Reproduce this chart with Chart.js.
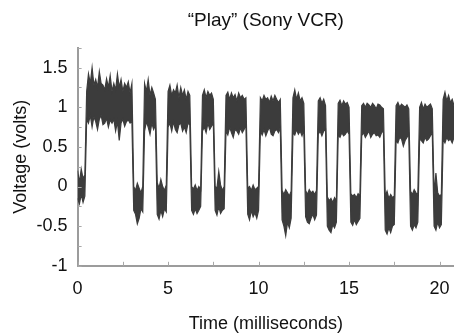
<!DOCTYPE html>
<html>
<head>
<meta charset="utf-8">
<script src="https://cdn.jsdelivr.net/npm/chart.js@4.4.1/dist/chart.umd.min.js"></script>
<style>
  html, body { margin: 0; padding: 0; background: #fff; }
  #wrap { width: 454px; height: 335px; }
</style>
</head>
<body>
<div id="wrap"><canvas id="scope"></canvas></div>
<script>
// scope trace: top and bottom edge of the noisy band,
// one sample every 0.1 ms (one line per pulse, low / high alternating)
const sampleStepMs = 0.1
const upperVolts = [
  0.20, 0.05, 0.22, 0.10, 0.15,
  1.20, 1.42, 1.30, 1.50, 1.28, 1.35, 1.25, 1.45, 1.30, 1.28, 1.22, 1.36, 1.25, 1.40, 1.20, 1.30, 1.22, 1.42, 1.25, 1.35, 1.20, 1.30, 1.25, 1.32, 1.18, 1.30,
  0.00, -0.05, 0.04, -0.02, -0.08, 0.00,
  1.30, 1.20, 1.35, 1.15, 1.25, 1.18, 1.10,
  0.05, -0.02, 0.09, 0.00, -0.05, 0.02,
  1.20, 1.28, 1.15, 1.22, 1.18, 1.28, 1.12, 1.25, 1.15, 1.22, 1.10, 1.20, 1.15,
  0.00, -0.03, 0.02, -0.05, 0.00, -0.04,
  1.15, 1.22, 1.12, 1.20, 1.15, 1.18, 1.10,
  0.00, -0.02, 0.19, 0.02, -0.05, 0.00,
  1.15, 1.19, 1.10, 1.18, 1.12, 1.16, 1.08, 1.18, 1.12, 1.15, 1.10, 1.12,
  -0.02, 0.00, -0.05, 0.02, -0.04, -0.02, 0.00,
  1.12, 1.08, 1.15, 1.10, 1.12, 1.06, 1.14, 1.08, 1.15, 1.10, 1.06, 1.10,
  -0.05, -0.10, -0.04, -0.08, -0.12, -0.06,
  1.12, 1.22, 1.10, 1.18, 1.08, 1.12, 1.05,
  -0.05, -0.10, -0.04, -0.08, -0.06, -0.10, -0.05,
  1.08, 1.12, 1.05, 1.10, 1.02,
  -0.13, -0.18, -0.15, -0.20, -0.14, -0.18,
  1.05, 1.09, 1.02, 1.08, 1.04, 1.06, 1.00,
  -0.09, -0.12, -0.10, -0.14, -0.09, -0.12,
  1.02, 1.05, 1.00, 1.05, 1.03, 1.00, 1.05, 1.02, 0.98, 1.04, 1.03, 1.00, 0.98,
  -0.12, -0.06, -0.15, -0.10, -0.14, -0.12,
  1.02, 1.06, 1.00, 1.04, 1.02, 1.00, 1.03, 0.98,
  -0.06, -0.10, -0.04, -0.08, -0.10,
  1.00, 1.06, 0.98, 1.04, 1.00, 1.02, 1.04, 0.98,
  -0.10, 0.17, -0.08, -0.12, -0.10,
  1.10, 1.19, 1.08, 1.15, 1.06, 1.10, 1.02
]
const lowerVolts = [
  -0.15, -0.22, -0.10, -0.20, -0.12,
  0.85, 0.80, 0.90, 0.75, 0.88, 0.82, 0.72, 0.85, 0.90, 0.78, 0.80, 0.86, 0.75, 0.84, 0.80, 0.85, 0.70, 0.82, 0.58, 0.80, 0.85, 0.76, 0.82, 0.84, 0.80, 0.82,
  -0.30, -0.35, -0.47, -0.40, -0.28, -0.32,
  0.70, 0.82, 0.75, 0.66, 0.80, 0.72, 0.78,
  -0.35, -0.41, -0.30, -0.38, -0.28, -0.32,
  0.75, 0.80, 0.70, 0.82, 0.72, 0.68, 0.78, 0.80, 0.70, 0.75, 0.68, 0.80, 0.78,
  -0.30, -0.35, -0.28, -0.34, -0.30, -0.25,
  0.70, 0.75, 0.68, 0.80, 0.72, 0.76, 0.80,
  -0.30, -0.36, -0.25, -0.34, -0.30, -0.28,
  0.70, 0.65, 0.75, 0.68, 0.62, 0.72, 0.70, 0.66, 0.74, 0.68, 0.72, 0.78,
  -0.35, -0.42, -0.30, -0.38, -0.33, -0.40, -0.30,
  0.70, 0.65, 0.72, 0.64, 0.70, 0.75, 0.66, 0.64, 0.70, 0.72, 0.68, 0.74,
  -0.42, -0.50, -0.62, -0.45, -0.52, -0.40,
  0.68, 0.65, 0.72, 0.66, 0.70, 0.64, 0.72,
  -0.38, -0.45, -0.47, -0.40, -0.35, -0.42, -0.36,
  0.66, 0.70, 0.64, 0.70, 0.72,
  -0.50, -0.55, -0.58, -0.48, -0.52, -0.45,
  0.65, 0.62, 0.68, 0.64, 0.66, 0.70, 0.66,
  -0.45, -0.49, -0.42, -0.48, -0.44, -0.40,
  0.64, 0.68, 0.62, 0.66, 0.70, 0.62, 0.66, 0.68, 0.64, 0.65, 0.62, 0.68, 0.70,
  -0.55, -0.60, -0.52, -0.58, -0.50, -0.48,
  0.58, 0.55, 0.62, 0.60, 0.51, 0.58, 0.62, 0.66,
  -0.50, -0.55, -0.48, -0.52, -0.45,
  0.60, 0.58, 0.55, 0.62, 0.58, 0.60, 0.64, 0.68,
  -0.50, -0.55, -0.45, -0.52, -0.48,
  0.60, 0.55, 0.62, 0.58, 0.60, 0.55, 0.62
]

const xLabelValues = [0, 5, 10, 15, 20]
const yLabelValues = [-1, -0.5, 0, 0.5, 1, 1.5]

const toPoints = arr => arr.map((v, i) => ({ x: Math.round(i * sampleStepMs * 10) / 10, y: v }))

const font = "'Liberation Sans', Arial, sans-serif"
const traceColor = '#3c3c3c'

// small tick marks drawn inside the axes, like the scanned plot
const innerTicks = {
  id: 'innerTicks',
  afterDraw(chart) {
    const { ctx, chartArea, scales: { x, y } } = chart
    ctx.save()
    ctx.strokeStyle = '#a8a8a8'
    ctx.lineWidth = 1
    ctx.beginPath()
    x.ticks.forEach(t => {
      if (Math.abs(t.value / 2.5 - Math.round(t.value / 2.5)) > 1e-6) return
      const px = Math.round(x.getPixelForValue(t.value)) + 0.5
      ctx.moveTo(px, chartArea.bottom)
      ctx.lineTo(px, chartArea.bottom - 4)
    })
    y.ticks.forEach(t => {
      const py = Math.round(y.getPixelForValue(t.value)) + 0.5
      ctx.moveTo(chartArea.left, py)
      ctx.lineTo(chartArea.left + 4, py)
    })
    ctx.stroke()
    ctx.restore()
  }
}

const ctx = document.getElementById('scope').getContext('2d')
new Chart(ctx, {
  type: 'line',
  data: {
    datasets: [{
      data: toPoints(upperVolts),
      borderColor: traceColor,
      borderWidth: 1.2,
      pointRadius: 0,
      tension: 0,
      fill: false
    }, {
      data: toPoints(lowerVolts),
      borderColor: traceColor,
      backgroundColor: traceColor,
      borderWidth: 1.2,
      pointRadius: 0,
      tension: 0,
      fill: '-1'
    }]
  },
  options: {
    responsive: true,
    maintainAspectRatio: false,
    animation: false,
    layout: { padding: 0 },
    plugins: {
      legend: { display: false },
      tooltip: { enabled: false },
      title: {
        display: true,
        text: '\u201CPlay\u201D (Sony VCR)',
        fullSize: false,
        color: '#111',
        font: { family: font, size: 19, weight: 'normal' },
        padding: { top: 9, bottom: 16 }
      }
    },
    scales: {
      x: {
        type: 'linear',
        min: 0,
        max: 20.8,
        border: { color: '#9c9c9c', width: 2 },
        grid: { drawOnChartArea: false, drawTicks: true, tickLength: 12, color: 'transparent' },
        ticks: {
          stepSize: 2.5,
          includeBounds: false,
          autoSkip: false,
          maxRotation: 0,
          padding: 0,
          color: '#111',
          font: { family: font, size: 18 },
          callback: v => xLabelValues.includes(v) ? String(v) : ''
        },
        title: {
          display: true,
          text: 'Time (milliseconds)',
          color: '#111',
          font: { family: font, size: 18 },
          padding: { top: 14, bottom: 0 }
        }
      },
      y: {
        min: -1,
        max: 1.75,
        border: { color: '#9c9c9c', width: 2 },
        grid: { drawOnChartArea: false, drawTicks: true, tickLength: 10, color: 'transparent' },
        ticks: {
          stepSize: 0.25,
          autoSkip: false,
          padding: 0,
          color: '#111',
          font: { family: font, size: 18 },
          callback: v => yLabelValues.includes(v) ? String(v) : ''
        },
        title: {
          display: true,
          text: 'Voltage (volts)',
          color: '#111',
          font: { family: font, size: 18 },
          padding: { top: 10, bottom: 5 }
        }
      }
    }
  },
  plugins: [innerTicks]
})
</script>
</body>
</html>
